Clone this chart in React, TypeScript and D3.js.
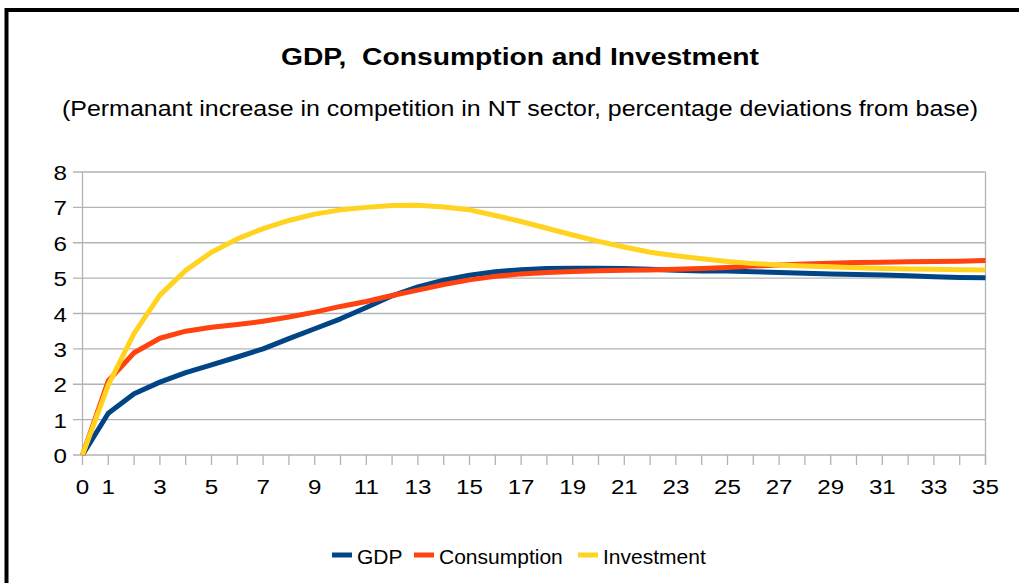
import React from "react";
import * as d3 from "d3";

const periods = d3.range(0, 36);
const gdp = [0, 1.18, 1.73, 2.06, 2.33, 2.55, 2.77, 3.0, 3.29, 3.57, 3.85, 4.17, 4.5, 4.75, 4.94, 5.08, 5.18, 5.24, 5.27, 5.28, 5.28, 5.27, 5.25, 5.22, 5.2, 5.2, 5.18, 5.16, 5.14, 5.12, 5.1, 5.09, 5.07, 5.04, 5.02, 5.01];
const consumption = [0, 2.1, 2.89, 3.3, 3.5, 3.61, 3.69, 3.78, 3.9, 4.04, 4.2, 4.34, 4.51, 4.66, 4.82, 4.95, 5.05, 5.12, 5.16, 5.19, 5.21, 5.22, 5.23, 5.25, 5.27, 5.3, 5.34, 5.37, 5.4, 5.42, 5.44, 5.45, 5.46, 5.47, 5.48, 5.5];
const investment = [0, 1.98, 3.44, 4.52, 5.22, 5.73, 6.11, 6.4, 6.63, 6.81, 6.93, 7.0, 7.05, 7.06, 7.01, 6.93, 6.77, 6.6, 6.41, 6.22, 6.04, 5.88, 5.73, 5.63, 5.55, 5.47, 5.41, 5.37, 5.34, 5.32, 5.29, 5.27, 5.26, 5.25, 5.24, 5.23];
const yTicks = [0, 1, 2, 3, 4, 5, 6, 7, 8];
const xLabels = [0, 1, 3, 5, 7, 9, 11, 13, 15, 17, 19, 21, 23, 25, 27, 29, 31, 33, 35];
const seriesNames = ["GDP", "Consumption", "Investment"];
const seriesColors = ["#004586", "#ff420e", "#ffd320"];
const title = "GDP,  Consumption and Investment";
const subtitle = "(Permanant increase in competition in NT sector, percentage deviations from base)";

export default function App() {
  const W = 1019, H = 583;
  const x = d3.scaleLinear().domain([0, 35]).range([82.5, 985.5]);
  const y = d3.scaleLinear().domain([0, 8]).range([455, 172]);
  const line = d3.line<number>().x((_, i) => x(periods[i])).y((d) => y(d));
  const data = [gdp, consumption, investment];
  const font = "'Liberation Sans', Arial, sans-serif";
  const grid = "#b3b3b3";
  const sx = 1.15;
  const legendItems = [
    { lx: 332, tx: 357 },
    { lx: 414, tx: 439 },
    { lx: 578, tx: 603 },
  ];
  return (
    <svg width={W} height={H} style={{ position: "absolute", left: 0, top: 0 }} fontFamily={font}>
      <rect x={0} y={0} width={W} height={H} fill="#fff" />
      <rect x={6.5} y={10} width={W + 20} height={H + 20} fill="none" stroke="#000" strokeWidth={4} />
      <text x={281} y={65} fontSize={23.5} fontWeight="bold" textLength={478} lengthAdjust="spacingAndGlyphs" style={{ whiteSpace: "pre" }}>{title}</text>
      <text x={62} y={116} fontSize={22} textLength={916} lengthAdjust="spacingAndGlyphs">{subtitle}</text>
      {yTicks.map((t) => (
        <g key={"y" + t}>
          <line x1={73} x2={x(35)} y1={y(t)} y2={y(t)} stroke={grid} strokeWidth={1.3} />
          <text transform={`translate(67,${y(t) + 8}) scale(${sx},1)`} textAnchor="end" fontSize={21}>{t}</text>
        </g>
      ))}
      <line x1={x(0)} x2={x(0)} y1={y(8)} y2={y(0)} stroke={grid} strokeWidth={1.3} />
      <line x1={x(35)} x2={x(35)} y1={y(8)} y2={y(0) + 10} stroke={grid} strokeWidth={1.3} />
      {periods.map((p) => (
        <line key={"xt" + p} x1={x(p)} x2={x(p)} y1={y(0)} y2={y(0) + 10} stroke={grid} strokeWidth={1.3} />
      ))}
      {xLabels.map((p) => (
        <text key={"xl" + p} transform={`translate(${x(p)},494) scale(${sx},1)`} textAnchor="middle" fontSize={21}>{p}</text>
      ))}
      {data.map((d, i) => (
        <path key={seriesNames[i]} d={line(d) || ""} fill="none" stroke={seriesColors[i]} strokeWidth={5} strokeLinejoin="round" />
      ))}
      {legendItems.map((it, i) => (
        <g key={"lg" + i}>
          <line x1={it.lx} x2={it.lx + 20} y1={555} y2={555} stroke={seriesColors[i]} strokeWidth={5} />
          <text x={it.tx} y={564} fontSize={21}>{seriesNames[i]}</text>
        </g>
      ))}
    </svg>
  );
}
